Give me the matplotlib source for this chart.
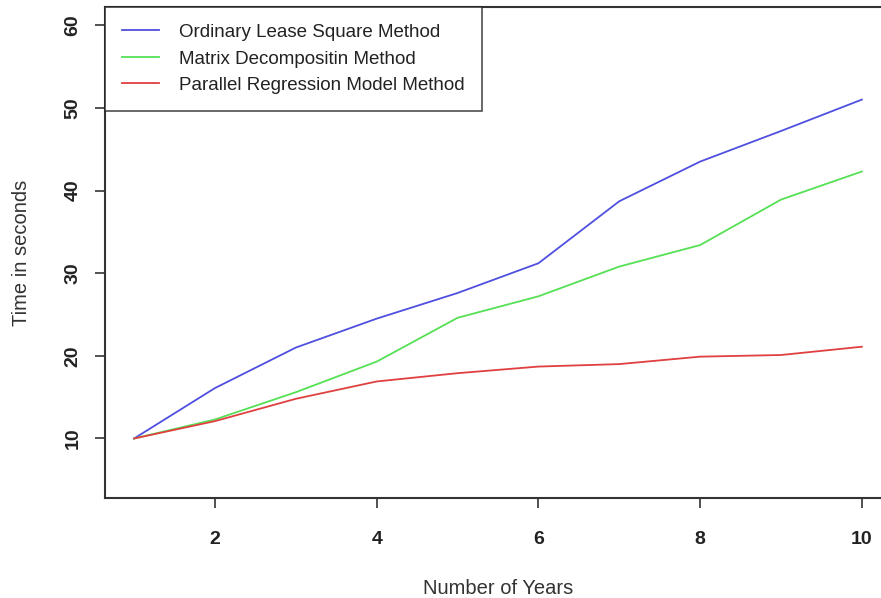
import numpy as np
import matplotlib.pyplot as plt

plt.rcParams['font.family'] = ['Liberation Sans', 'DejaVu Sans']

# Data
years = [1, 2, 3, 4, 5, 6, 7, 8, 9, 10]
ols_time = [10.0, 16.1, 21.0, 24.5, 27.6, 31.2, 38.7, 43.5, 47.2, 51.0]
matrix_time = [10.0, 12.3, 15.6, 19.3, 24.6, 27.2, 30.8, 33.4, 38.9, 42.3]
parallel_time = [10.0, 12.1, 14.8, 16.9, 17.9, 18.7, 19.0, 19.9, 20.1, 21.1]

labels = ["Ordinary Lease Square Method",
          "Matrix Decompositin Method",
          "Parallel Regression Model Method"]
colors = ['#4f4fe0', '#55e055', '#e04040']

fig = plt.figure(figsize=(8.81, 5.98), dpi=100)
# R-style plot region; the right edge runs past the figure like in the original
ax = fig.add_axes([105 / 881, 100 / 598, 786 / 881, 491 / 598])

for series, lab, col in zip([ols_time, matrix_time, parallel_time], labels, colors):
    ax.plot(years, series, color=col, lw=1.3, label=lab)

# R pads the data range by 4% on each side
xpad = (10 - 1) * 0.04
ypad = (60 - 5) * 0.04
ax.set_xlim(1 - xpad, 10 + xpad)
ax.set_ylim(5 - ypad, 60 + ypad)

ax.set_xticks([2, 4, 6, 8, 10])
ax.set_yticks([10, 20, 30, 40, 50, 60])
ax.tick_params(axis='both', direction='out', length=7, width=1.2,
               color='#333333', labelsize=14, labelcolor='#222222')
ax.tick_params(axis='x', pad=17)
ax.tick_params(axis='y', pad=10)
for lbl in ax.get_xticklabels() + ax.get_yticklabels():
    lbl.set_fontweight('bold')
for lbl in ax.get_yticklabels():
    lbl.set_rotation(90)
    lbl.set_va('center')

for sp in ax.spines.values():
    sp.set_color('#333333')
    sp.set_linewidth(1.5)

ax.set_xlabel("Number of Years", fontsize=14.5, color='#333333', labelpad=22)
ax.set_ylabel("Time in seconds", fontsize=14.5, color='#333333', labelpad=24)

leg = ax.legend(loc='upper left', bbox_to_anchor=(0, 1), borderaxespad=0,
                fontsize=13.5, frameon=True, fancybox=False, handlelength=2.0,
                handletextpad=1.05, labelspacing=0.5, borderpad=0.9)
leg.get_frame().set_edgecolor('#222222')
leg.get_frame().set_linewidth(1.2)
for t in leg.get_texts():
    t.set_color('#222222')

fig.savefig('out.png', dpi=100)
